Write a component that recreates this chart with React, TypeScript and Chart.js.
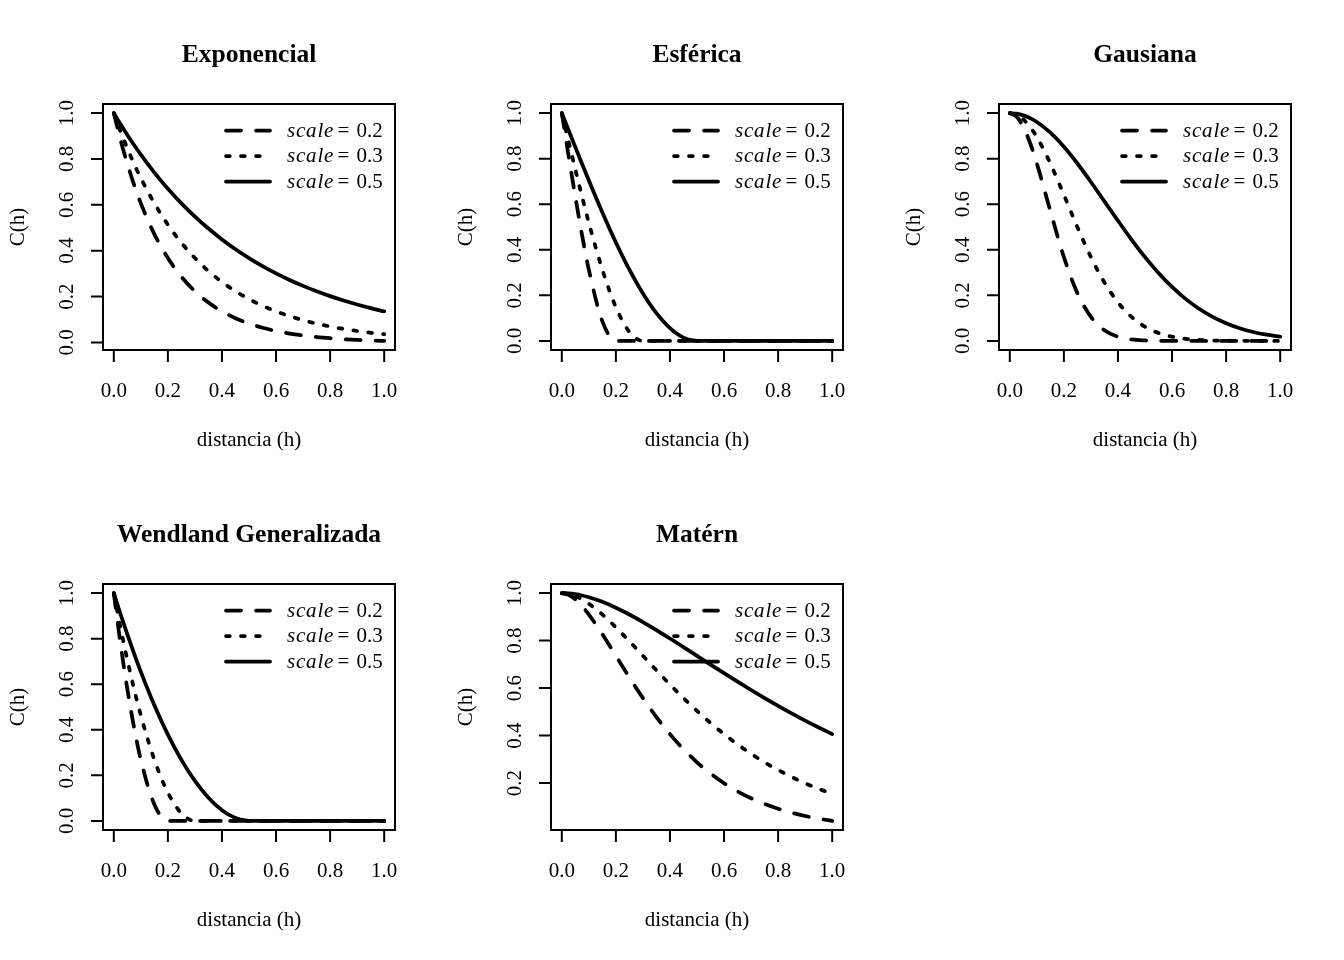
import React, { useEffect, useRef } from 'react';
import { Chart, registerables } from 'chart.js';

Chart.register(...registerables);

// distance values (h)
const H = [0, 0.025, 0.05, 0.075, 0.1, 0.15, 0.2, 0.25, 0.3, 0.35, 0.4, 0.45, 0.5, 0.55, 0.6, 0.65, 0.7, 0.75, 0.8, 0.85, 0.9, 0.95, 1.0];

// Exponencial
const EXP_02 = [1, 0.8825, 0.7788, 0.6873, 0.6065, 0.4724, 0.3679, 0.2865, 0.2231, 0.1738, 0.1353, 0.1054, 0.0821, 0.0639, 0.0498, 0.0388, 0.0302, 0.0235, 0.0183, 0.0143, 0.0111, 0.0087, 0.0067];
const EXP_03 = [1, 0.92, 0.8465, 0.7788, 0.7165, 0.6065, 0.5134, 0.4346, 0.3679, 0.3114, 0.2636, 0.2231, 0.1889, 0.1599, 0.1353, 0.1146, 0.097, 0.0821, 0.0695, 0.0588, 0.0498, 0.0421, 0.0357];
const EXP_05 = [1, 0.9512, 0.9048, 0.8607, 0.8187, 0.7408, 0.6703, 0.6065, 0.5488, 0.4966, 0.4493, 0.4066, 0.3679, 0.3329, 0.3012, 0.2725, 0.2466, 0.2231, 0.2019, 0.1827, 0.1653, 0.1496, 0.1353];

// Esférica
const SPH_02 = [1, 0.8135, 0.6328, 0.4639, 0.3125, 0.0859, 0, 0, 0, 0, 0, 0, 0, 0, 0, 0, 0, 0, 0, 0, 0, 0, 0];
const SPH_03 = [1, 0.8753, 0.7523, 0.6328, 0.5185, 0.3125, 0.1481, 0.0394, 0, 0, 0, 0, 0, 0, 0, 0, 0, 0, 0, 0, 0, 0, 0];
const SPH_05 = [1, 0.9251, 0.8505, 0.7767, 0.704, 0.5635, 0.432, 0.3125, 0.208, 0.1215, 0.056, 0.0145, 0, 0, 0, 0, 0, 0, 0, 0, 0, 0, 0];

// Gausiana
const GAU_02 = [1, 0.9845, 0.9394, 0.8688, 0.7788, 0.5698, 0.3679, 0.2096, 0.1054, 0.0468, 0.0183, 0.0063, 0.0019, 0.0005, 0.0001, 0, 0, 0, 0, 0, 0, 0, 0];
const GAU_03 = [1, 0.9931, 0.9726, 0.9394, 0.8948, 0.7788, 0.6412, 0.4994, 0.3679, 0.2564, 0.169, 0.1054, 0.0622, 0.0347, 0.0183, 0.0091, 0.0043, 0.0019, 0.0008, 0.0003, 0.0001, 0, 0];
const GAU_05 = [1, 0.9975, 0.99, 0.9778, 0.9608, 0.9139, 0.8521, 0.7788, 0.6977, 0.6126, 0.5273, 0.4449, 0.3679, 0.2982, 0.2369, 0.1845, 0.1409, 0.1054, 0.0773, 0.0556, 0.0392, 0.0271, 0.0183];

// Wendland Generalizada
const WEN_02 = [1, 0.7759, 0.5789, 0.4094, 0.2679, 0.0718, 0, 0, 0, 0, 0, 0, 0, 0, 0, 0, 0, 0, 0, 0, 0, 0, 0];
const WEN_03 = [1, 0.8476, 0.7072, 0.5789, 0.4628, 0.2679, 0.124, 0.0332, 0, 0, 0, 0, 0, 0, 0, 0, 0, 0, 0, 0, 0, 0, 0];
const WEN_05 = [1, 0.9071, 0.8186, 0.7343, 0.6544, 0.5078, 0.3789, 0.2679, 0.1753, 0.1015, 0.047, 0.0126, 0, 0, 0, 0, 0, 0, 0, 0, 0, 0, 0];

// Matérn
const MAT_02 = [1, 0.9928, 0.9735, 0.945, 0.9098, 0.8266, 0.7358, 0.6446, 0.5578, 0.4779, 0.406, 0.3425, 0.2873, 0.2397, 0.1991, 0.1649, 0.1359, 0.1117, 0.0916, 0.0749, 0.0611, 0.0497, 0.0404];
const MAT_03 = [1, 0.9967, 0.9876, 0.9735, 0.9553, 0.9098, 0.8557, 0.7967, 0.7358, 0.6747, 0.6151, 0.5578, 0.5037, 0.4531, 0.406, 0.3629, 0.3233, 0.2873, 0.2548, 0.2254, 0.1991, 0.1754, 0.1546];
const MAT_05 = [1, 0.9988, 0.9953, 0.9898, 0.9825, 0.9631, 0.9384, 0.9098, 0.8781, 0.8442, 0.8088, 0.7725, 0.7358, 0.699, 0.6626, 0.6268, 0.5918, 0.5578, 0.5249, 0.4932, 0.4628, 0.4338, 0.406];

const X_TICKS = [0, 0.2, 0.4, 0.6, 0.8, 1.0];
const Y_TICKS_FULL = [0, 0.2, 0.4, 0.6, 0.8, 1.0];
const Y_TICKS_MATERN = [0.2, 0.4, 0.6, 0.8, 1.0];
const SCALE_LABELS = ['0.2', '0.3', '0.5'];
const TITLES = ['Exponencial', 'Esférica', 'Gausiana', 'Wendland Generalizada', 'Matérn'];
const X_LABEL = 'distancia (h)';
const Y_LABEL = 'C(h)';

const PANELS = [
  { title: TITLES[0], series: [EXP_02, EXP_03, EXP_05], yTicks: Y_TICKS_FULL, col: 0, row: 0 },
  { title: TITLES[1], series: [SPH_02, SPH_03, SPH_05], yTicks: Y_TICKS_FULL, col: 1, row: 0 },
  { title: TITLES[2], series: [GAU_02, GAU_03, GAU_05], yTicks: Y_TICKS_FULL, col: 2, row: 0 },
  { title: TITLES[3], series: [WEN_02, WEN_03, WEN_05], yTicks: Y_TICKS_FULL, col: 0, row: 1 },
  { title: TITLES[4], series: [MAT_02, MAT_03, MAT_05], yTicks: Y_TICKS_MATERN, col: 1, row: 1 },
];

const CELL_W = 448;
const CELL_H = 480;
const LW = 3.75;
const DASHES: number[][] = [[15, 15], [3.75, 11.25], []];
const FONT = '"Liberation Serif", "Times New Roman", Times, serif';

type PanelCfg = (typeof PANELS)[number];

function makePlugin(cfg: PanelCfg) {
  return {
    id: 'rbase',
    afterDraw(chart: any) {
      const ctx: CanvasRenderingContext2D = chart.ctx;
      const a = chart.chartArea;
      const xs = chart.scales.x;
      const ys = chart.scales.y;
      const cx = (a.left + a.right) / 2;
      const cy = (a.top + a.bottom) / 2;
      ctx.save();
      ctx.strokeStyle = '#000';
      ctx.fillStyle = '#000';
      ctx.setLineDash([]);
      ctx.lineCap = 'butt';
      ctx.lineWidth = 2;
      // box
      ctx.strokeRect(a.left, a.top, a.right - a.left, a.bottom - a.top);
      // ticks
      ctx.beginPath();
      for (const t of X_TICKS) {
        const px = xs.getPixelForValue(t);
        ctx.moveTo(px, a.bottom);
        ctx.lineTo(px, a.bottom + 12);
      }
      for (const t of cfg.yTicks) {
        const py = ys.getPixelForValue(t);
        ctx.moveTo(a.left, py);
        ctx.lineTo(a.left - 12, py);
      }
      ctx.stroke();
      // tick labels
      ctx.font = `21px ${FONT}`;
      ctx.textAlign = 'center';
      ctx.textBaseline = 'alphabetic';
      for (const t of X_TICKS) {
        ctx.fillText(t.toFixed(1), xs.getPixelForValue(t), a.bottom + 47);
      }
      for (const t of cfg.yTicks) {
        ctx.save();
        ctx.translate(a.left - 30, ys.getPixelForValue(t));
        ctx.rotate(-Math.PI / 2);
        ctx.fillText(t.toFixed(1), 0, 0);
        ctx.restore();
      }
      // axis labels
      ctx.fillText(X_LABEL, cx, a.bottom + 96);
      ctx.save();
      ctx.translate(24, cy);
      ctx.rotate(-Math.PI / 2);
      ctx.fillText(Y_LABEL, 0, 0);
      ctx.restore();
      // title
      ctx.font = `bold 25.5px ${FONT}`;
      ctx.fillText(cfg.title, cx, a.top - 42);
      // legend
      ctx.textAlign = 'left';
      for (let i = 0; i < 3; i++) {
        const y = a.top + 26.5 + 25.5 * i;
        ctx.save();
        ctx.lineWidth = LW;
        ctx.lineCap = 'round';
        ctx.setLineDash(DASHES[i]);
        ctx.beginPath();
        ctx.moveTo(a.right - 169, y);
        ctx.lineTo(a.right - 125, y);
        ctx.stroke();
        ctx.restore();
        const by = y + 6;
        ctx.font = `italic 21px ${FONT}`;
        (ctx as any).letterSpacing = '0.8px';
        ctx.fillText('scale', a.right - 108, by);
        (ctx as any).letterSpacing = '0px';
        ctx.font = `21px ${FONT}`;
        ctx.fillText('=', a.right - 57.5, by);
        ctx.fillText(SCALE_LABELS[i], a.right - 38.5, by);
      }
      ctx.restore();
    },
  };
}

function Panel({ cfg }: { cfg: PanelCfg }) {
  const ref = useRef<HTMLCanvasElement>(null);
  useEffect(() => {
    const canvas = ref.current!;
    const first = cfg.series[0];
    const lo = Math.min(...first);
    const hi = Math.max(...first);
    const pad = (hi - lo) * 0.04;
    const chart = new Chart(canvas, {
      type: 'line',
      data: {
        datasets: cfg.series.map((s, i) => ({
          label: 'scale = ' + SCALE_LABELS[i],
          data: H.map((h, j) => ({ x: h, y: s[j] })),
          borderColor: '#000',
          backgroundColor: '#000',
          borderWidth: LW,
          borderDash: DASHES[i],
          borderCapStyle: 'round' as const,
          borderJoinStyle: 'round' as const,
          pointRadius: 0,
          fill: false,
          cubicInterpolationMode: 'monotone' as const,
        })),
      },
      options: {
        animation: false,
        responsive: false,
        events: [],
        layout: { padding: { left: 103, top: 104, right: CELL_W - 395, bottom: CELL_H - 350 } },
        scales: {
          x: { type: 'linear', min: -0.04, max: 1.04, display: false },
          y: { type: 'linear', min: lo - pad, max: hi + pad, display: false },
        },
        plugins: {
          legend: { display: false },
          title: { display: false },
          tooltip: { enabled: false },
        },
      },
      plugins: [makePlugin(cfg)],
    } as any);
    return () => chart.destroy();
  }, [cfg]);
  return (
    <canvas
      ref={ref}
      width={CELL_W}
      height={CELL_H}
      style={{ position: 'absolute', left: cfg.col * CELL_W, top: cfg.row * CELL_H, width: CELL_W, height: CELL_H }}
    />
  );
}

export default function App() {
  return (
    <div style={{ position: 'fixed', left: 0, top: 0, width: 1344, height: 960, background: '#fff' }}>
      {PANELS.map((p) => (
        <Panel key={p.title} cfg={p} />
      ))}
    </div>
  );
}
